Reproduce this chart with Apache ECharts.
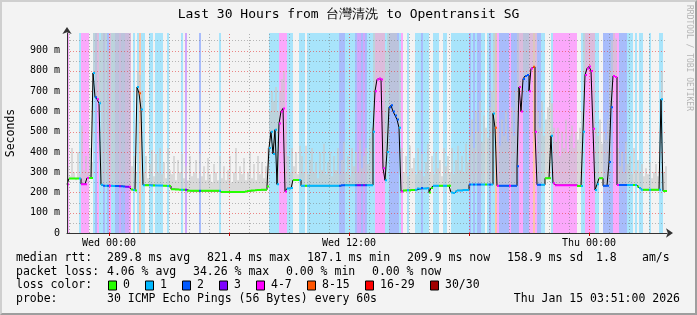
<!DOCTYPE html>
<html><head><meta charset="utf-8">
<script src="https://cdn.jsdelivr.net/npm/echarts@6/dist/echarts.min.js"></script>
<style>
html,body{margin:0;padding:0;background:#f3f3f3;}
#wrap{position:relative;width:697px;height:315px;}
#c{position:absolute;left:0;top:0;width:697px;height:315px;}
#frame{position:absolute;left:0;top:0;width:697px;height:315px;box-sizing:border-box;border-style:solid;border-width:2px;border-color:#cfcfcf #9e9e9e #9e9e9e #cfcfcf;pointer-events:none;}
</style></head><body><div id="wrap"><div id="c"></div><div id="frame"></div></div>
<script>
// ---- data ----
// time axis: hours relative to Wed 00:00, 300 slots of 0.1 h (6 min)
const T0 = -2.1, STEP = 0.1, T_END = 27.9, Y_MAX = 987;

// loss level per slot: 0 none, 1 "1", 2 "2", 3 "3", 4 "4-7", 5 "8-15"
const lossLevel = [
4,0,0,0,0,0,1,4,4,4,4,0,0,1,2,4,1,1,2,1,
2,4,1,1,2,2,3,2,2,3,3,4,0,1,0,1,5,1,1,0,
0,1,1,0,1,1,1,1,0,0,1,0,0,0,0,0,0,1,0,3,
0,0,0,0,0,0,2,0,0,0,0,0,0,0,0,0,1,0,0,0,
0,0,0,0,0,0,0,0,0,0,0,0,0,0,0,0,0,0,0,0,
0,1,1,1,1,1,4,4,4,4,1,1,1,0,0,0,1,1,1,0,
1,1,1,1,1,1,1,1,1,1,1,1,1,1,1,1,2,2,2,1,
1,1,1,1,2,3,3,2,3,2,1,1,1,1,4,4,4,4,4,1,
1,2,2,2,2,2,1,4,0,0,1,0,0,0,1,1,1,2,1,1,
1,0,0,1,1,1,0,0,1,1,0,0,1,1,1,1,1,1,1,1,
1,2,1,2,1,2,2,1,1,0,1,2,1,1,5,4,2,2,2,2,
2,4,2,2,2,2,4,4,2,2,2,4,4,5,4,2,2,1,1,0,
0,0,1,4,4,4,4,4,4,4,4,4,4,4,4,0,0,1,1,4,
4,4,4,4,1,1,0,0,2,2,2,2,2,4,4,4,2,2,2,2,
1,1,1,0,1,0,1,1,0,0,0,1,0,0,0,0,1,1,0,0
];

// median rtt per slot (ms)
const medianMs = [
240,269,269,269,269,269,269,241,241,241,272,272,272,790,670,660,640,238,233,233,
233,233,233,232,232,232,231,231,230,228,228,228,215,212,210,720,690,610,236,236,
236,236,235,235,235,234,234,234,233,233,232,232,216,216,215,215,214,214,213,213,
208,208,208,208,208,208,208,208,208,208,208,208,208,208,208,208,208,202,202,202,
202,202,202,202,202,202,202,202,202,205,207,208,210,210,211,212,212,213,213,213,
230,420,500,390,510,240,540,600,615,205,220,220,222,262,262,262,262,233,233,233,
233,233,233,233,233,233,233,233,233,233,233,233,233,233,233,233,233,236,236,236,
236,236,236,236,236,236,236,236,236,236,236,236,236,500,700,758,762,758,320,260,
400,620,630,600,580,560,520,205,210,210,211,210,212,212,213,220,218,222,220,219,
221,200,222,233,233,233,233,233,233,233,233,233,200,198,205,210,210,210,212,212,
212,239,239,239,239,239,239,239,239,239,239,239,239,590,520,233,233,233,233,233,
233,233,233,233,233,330,720,600,760,775,780,700,812,820,500,238,238,238,238,270,
270,270,480,245,236,236,236,236,236,236,236,236,236,236,236,232,232,232,500,780,
812,822,800,515,212,240,270,270,233,233,233,350,620,775,770,237,237,237,237,237,
237,237,237,237,237,230,222,213,213,213,213,213,213,213,213,213,213,660,207,207
];

// upper edge of the ping "smoke" per slot (ms)
const smokeHiMs = [
330,280,420,300,260,400,290,530,310,380,300,420,350,990,990,990,950,990,990,990,
900,990,990,990,990,990,990,990,990,990,990,990,330,380,300,800,780,700,300,380,
270,340,410,280,390,300,420,290,350,270,420,310,290,380,260,360,300,390,270,330,
260,380,280,300,360,270,390,280,330,260,370,290,250,340,300,260,380,270,330,260,
310,380,250,300,420,260,330,290,370,260,300,400,270,340,260,380,290,350,270,330,
420,600,700,650,720,600,700,760,800,560,380,300,420,330,400,290,430,380,300,430,
290,360,420,300,350,270,400,310,440,290,350,400,280,380,310,420,290,360,450,300,
380,280,420,330,400,300,460,320,380,420,340,470,520,990,990,990,990,990,990,900,
990,990,990,990,990,950,900,420,300,380,280,430,320,370,290,420,310,390,280,350,
440,300,380,290,400,320,360,280,420,330,380,300,420,290,360,430,310,380,300,440,
350,480,560,420,600,500,650,450,580,520,470,620,700,990,990,520,430,560,480,600,
450,520,620,480,700,990,990,990,990,990,990,990,990,990,990,600,520,650,480,560,
620,700,640,520,450,520,380,500,420,560,400,480,530,420,500,460,520,600,990,990,
990,990,990,990,520,480,560,440,500,460,560,800,950,990,960,420,330,400,300,450,
340,380,290,420,310,360,300,340,280,320,290,350,270,300,340,280,320,800,300,330
];

const xLabelHours = [0, 12, 24];
const xTickLabels = ['Wed 00:00', 'Wed 12:00', 'Thu 00:00'];
const xGridHours = [-2,-1,0,1,2,3,4,5,6,7,8,9,10,11,12,13,14,15,16,17,18,19,20,21,22,23,24,25,26,27];
const xMajorHours = [0, 6, 12, 18, 24];
const yGridMs = [50,100,150,200,250,300,350,400,450,500,550,600,650,700,750,800,850,900,950];

const lossLegendLabels = ['0','1','2','3','4-7','8-15','16-29','30/30'];
const lossLineColors = ['#26ff00','#00b8ff','#0059ff','#7e00ff','#ff00ff','#ff5500','#ff0000','#a10000'];
const lossBandColors = [null,'#a8e4fb','#a8bcfb','#d0a8fb','#fba8fb','#fcc4a8'];

const titleText = 'Last 30 Hours from 台灣清洗 to Opentransit SG';
const medianStats = ['289.8 ms avg','821.4 ms max','187.1 ms min','209.9 ms now','158.9 ms sd','1.8','am/s'];
const lossStats = ['4.06 % avg','34.26 % max','0.00 % min','0.00 % now'];
const probeText = '30 ICMP Echo Pings (56 Bytes) every 60s';
const dateText = 'Thu Jan 15 03:51:00 2026';

// ---- build ----
const MONO = '"DejaVu Sans Mono", monospace';
const slotStart = i => T0 + i * STEP;
const bandData = lossLevel.map((l, i) => [slotStart(i), slotStart(i + 1), l]);
const smokeData = smokeHiMs.map((h, i) => [slotStart(i), slotStart(i + 1), medianMs[i], h]);
const medianLine = medianMs.map((v, i) => [slotStart(i), v]);
medianLine.push([T_END, medianMs[medianMs.length - 1]]);
const segData = medianMs.map((v, i) => [slotStart(i), slotStart(i + 1), v, lossLevel[i]]);

const chart = echarts.init(document.getElementById('c'));

const graphics = [];
function txt(x, y, s, opt) {
  graphics.push(Object.assign({type: 'text', x: x, y: y, silent: true,
    style: Object.assign({text: s, font: '11.5px ' + MONO, fill: '#000', align: 'left', verticalAlign: 'middle'}, opt || {})}));
}
txt(348.5, 15, titleText, {font: '13px ' + MONO, align: 'center'});
graphics.push({type: 'text', x: 11, y: 133, rotation: Math.PI / 2, silent: true,
  style: {text: 'Seconds', font: '11.5px ' + MONO, fill: '#000', align: 'center', verticalAlign: 'middle'}});
graphics.push({type: 'text', x: 689, y: 5, rotation: -Math.PI / 2, silent: true,
  style: {text: 'RRDTOOL / TOBI OETIKER', font: '8px ' + MONO, fill: '#b4b4b4', align: 'left', verticalAlign: 'middle'}});

const rowY = [258.5, 272, 285.5, 299];
txt(16, rowY[0], 'median rtt:');
const medX = [107, 207, 307, 407, 507, 596, 642];
medianStats.forEach((s, k) => txt(medX[k], rowY[0], s));
txt(16, rowY[1], 'packet loss:');
const lossX = [107, 193, 286, 372];
lossStats.forEach((s, k) => txt(lossX[k], rowY[1], s));
txt(16, rowY[2], 'loss color:');
const swX = [108, 145, 182, 219, 256, 307, 365, 430];
lossLegendLabels.forEach((s, k) => {
  graphics.push({type: 'rect', silent: true, shape: {x: swX[k] + 0.5, y: rowY[2] - 4.5, width: 8, height: 9},
    style: {fill: lossLineColors[k], stroke: '#000', lineWidth: 1}});
  txt(swX[k] + 15, rowY[2], s);
});
txt(16, rowY[3], 'probe:');
txt(107, rowY[3], probeText);
txt(680, rowY[3], dateText, {align: 'right'});

const option = {
  backgroundColor: 'transparent',
  animation: false,
  grid: {left: 67, top: 33, width: 600, height: 200, containLabel: false},
  xAxis: {
    type: 'value', min: T0, max: T_END, z: 6,
    axisLine: {show: true, onZero: false, lineStyle: {color: '#333', width: 1}, symbol: ['none', 'arrow'], symbolSize: [7, 7], symbolOffset: [0, 6]},
    axisTick: {show: true, customValues: xMajorHours, length: 3, lineStyle: {color: '#cc0000'}},
    axisLabel: {customValues: xLabelHours, formatter: v => xTickLabels[xLabelHours.indexOf(v)] || '',
      fontFamily: MONO, fontSize: 10, color: '#000', margin: 5},
    splitLine: {show: false}
  },
  yAxis: {
    type: 'value', min: 0, max: Y_MAX, interval: 100, z: 6,
    axisLine: {show: true, onZero: false, lineStyle: {color: '#333', width: 1}, symbol: ['none', 'arrow'], symbolSize: [7, 7], symbolOffset: [0, 6]},
    axisTick: {show: false},
    axisLabel: {showMaxLabel: false, formatter: v => v === 0 ? '0' : v + ' m', fontFamily: MONO, fontSize: 10, color: '#000', margin: 7},
    splitLine: {show: false}
  },
  graphic: graphics,
  series: [
    { // loss background bands
      type: 'custom', z: 1, silent: true, data: bandData,
      renderItem: (p, api) => {
        const l = api.value(2);
        if (!l) return null;
        const a = api.coord([api.value(0), Y_MAX]);
        const b = api.coord([api.value(1), 0]);
        return {type: 'rect', shape: {x: a[0], y: a[1], width: b[0] - a[0], height: b[1] - a[1]},
          style: {fill: lossBandColors[l]}};
      }
    },
    { // smoke
      type: 'custom', z: 2, silent: true, data: smokeData,
      renderItem: (p, api) => {
        const a = api.coord([api.value(0), Math.min(api.value(3), Y_MAX)]);
        const b = api.coord([api.value(1), api.value(2)]);
        return {type: 'rect', shape: {x: a[0], y: a[1], width: b[0] - a[0], height: b[1] - a[1]},
          style: {fill: 'rgba(200,200,200,0.62)'}};
      }
    },
    { // vertical grid
      type: 'custom', z: 3, silent: true, data: xGridHours.map(h => [h, 0]),
      renderItem: (p, api) => {
        const h = api.value(0);
        const a = api.coord([h, 0]), b = api.coord([h, Y_MAX]);
        const major = xMajorHours.indexOf(h) >= 0;
        const x = Math.round(a[0]) + 0.5;
        return {type: 'line', shape: {x1: x, y1: a[1], x2: x, y2: b[1]},
          style: {stroke: major ? 'rgba(230,60,60,0.7)' : 'rgba(120,120,120,0.55)', lineWidth: 1, lineDash: [1, 2]}};
      }
    },
    { // horizontal grid
      type: 'custom', z: 3, silent: true, data: yGridMs.map(v => [T0, v]),
      renderItem: (p, api) => {
        const v = api.value(1);
        const a = api.coord([T0, v]), b = api.coord([T_END, v]);
        const major = v % 100 === 0;
        const y = Math.round(a[1]) + 0.5;
        return {type: 'line', shape: {x1: a[0], y1: y, x2: b[0], y2: y},
          style: {stroke: major ? 'rgba(230,60,60,0.6)' : 'rgba(120,120,120,0.5)', lineWidth: 1, lineDash: [1, 2]}};
      }
    },
    { // median line (black)
      type: 'line', z: 4, silent: true, data: medianLine, step: 'end', showSymbol: false,
      lineStyle: {color: '#000', width: 1}
    },
    { // median coloured by loss
      type: 'custom', z: 5, silent: true, data: segData,
      renderItem: (p, api) => {
        const a = api.coord([api.value(0), api.value(2)]);
        const b = api.coord([api.value(1), api.value(2)]);
        return {type: 'line', shape: {x1: a[0], y1: a[1], x2: b[0], y2: b[1]},
          style: {stroke: lossLineColors[api.value(3)], lineWidth: 2}};
      }
    }
  ]
};
chart.setOption(option);
</script></body></html>
